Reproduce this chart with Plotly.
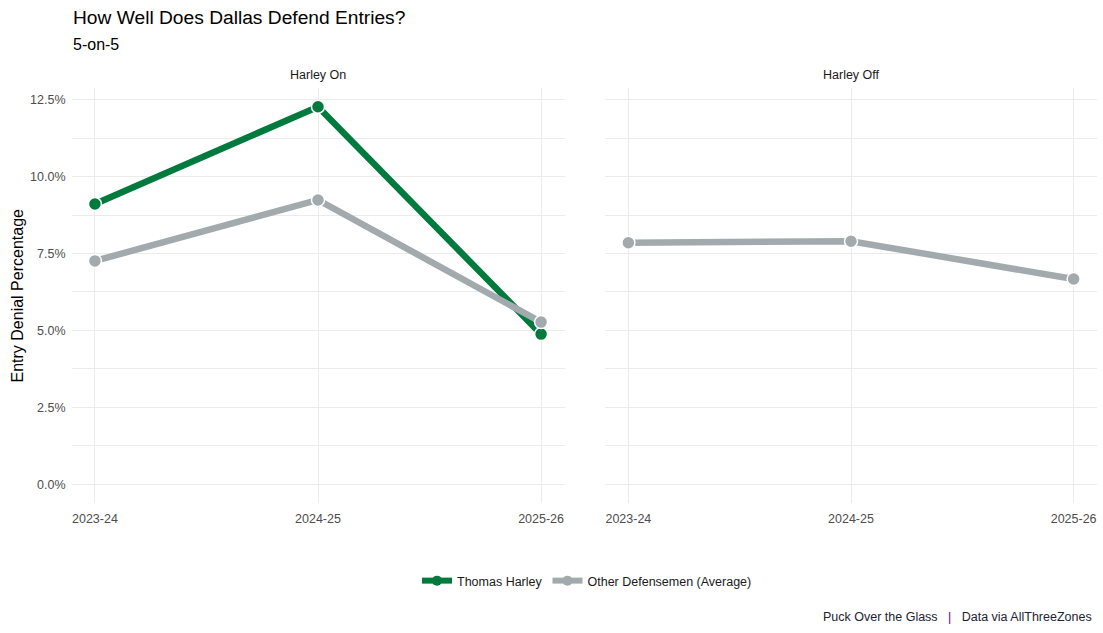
import plotly.graph_objects as go

seasons = ["2023-24", "2024-25", "2025-26"]
harley_on_thomas = [0.0911, 0.1227, 0.0488]
harley_on_others = [0.0726, 0.0924, 0.0527]
harley_off_others = [0.0785, 0.0790, 0.0667]
panel_titles = ["Harley On", "Harley Off"]
y_ticks = [0.0, 0.025, 0.05, 0.075, 0.10, 0.125]

GREEN = "#007A3D"
GRAY = "#A2AAAD"
W, H = 1103, 633
FONT = "Liberation Sans, Arial, sans-serif"

xpos = list(range(len(seasons)))
fig = go.Figure()

# lines first (ggplot draws all lines then points)
fig.add_trace(go.Scatter(x=xpos, y=harley_on_thomas, mode="lines", line=dict(color=GREEN, width=6.5),
                         xaxis="x", yaxis="y", showlegend=False, hoverinfo="skip"))
fig.add_trace(go.Scatter(x=xpos, y=harley_on_others, mode="lines", line=dict(color=GRAY, width=6.5),
                         xaxis="x", yaxis="y", showlegend=False, hoverinfo="skip"))
fig.add_trace(go.Scatter(x=xpos, y=harley_off_others, mode="lines", line=dict(color=GRAY, width=6.5),
                         xaxis="x2", yaxis="y2", showlegend=False, hoverinfo="skip"))
mk = dict(size=13, line=dict(color="white", width=1.5))
fig.add_trace(go.Scatter(x=xpos, y=harley_on_thomas, mode="markers", marker=dict(color=GREEN, **mk),
                         xaxis="x", yaxis="y", showlegend=False))
fig.add_trace(go.Scatter(x=xpos, y=harley_on_others, mode="markers", marker=dict(color=GRAY, **mk),
                         xaxis="x", yaxis="y", showlegend=False))
fig.add_trace(go.Scatter(x=xpos, y=harley_off_others, mode="markers", marker=dict(color=GRAY, **mk),
                         xaxis="x2", yaxis="y2", showlegend=False))
# legend entries
fig.add_trace(go.Scatter(x=[None], y=[None], mode="lines+markers", name="Thomas Harley",
                         line=dict(color=GREEN, width=6), marker=dict(color=GREEN, size=10),
                         xaxis="x", yaxis="y"))
fig.add_trace(go.Scatter(x=[None], y=[None], mode="lines+markers", name="Other Defensemen (Average)",
                         line=dict(color=GRAY, width=6), marker=dict(color=GRAY, size=10),
                         xaxis="x", yaxis="y"))

grid = "#EBEBEB"
xcommon = dict(range=[-0.105, len(seasons) - 1 + 0.105], tickvals=xpos, ticktext=seasons,
               showgrid=True, gridcolor=grid, gridwidth=1, zeroline=False, showline=False,
               ticks="", tickfont=dict(size=12.5, color="#4D4D4D", family=FONT),
               ticklabelstandoff=6, fixedrange=True)
ycommon = dict(range=[-0.0061, 0.1288], tickvals=y_ticks, tickformat=".1%",
               showgrid=True, gridcolor=grid, gridwidth=1, zeroline=False, showline=False,
               ticks="", minor=dict(dtick=0.0125, tick0=0, showgrid=True, gridcolor=grid, gridwidth=0.7),
               tickfont=dict(size=12.5, color="#4D4D4D", family=FONT), fixedrange=True)

yd = [1 - 503 / H, 1 - 88 / H]
fig.update_layout(
    width=W, height=H,
    margin=dict(l=0, r=0, t=0, b=0),
    paper_bgcolor="white", plot_bgcolor="white",
    font=dict(family=FONT, color="#1A1A1A"),
    xaxis=dict(domain=[71.5 / W, 564.5 / W], anchor="y", **xcommon),
    xaxis2=dict(domain=[605 / W, 1097 / W], anchor="y2", **xcommon),
    yaxis=dict(domain=yd, anchor="x", ticklabelstandoff=5, **ycommon),
    yaxis2=dict(domain=yd, anchor="x2", showticklabels=False, matches="y", **ycommon),
    showlegend=True,
    legend=dict(orientation="h", x=587 / W, xanchor="center", y=1 - 581 / H, yanchor="middle",
                font=dict(size=12.5, color="#1A1A1A", family=FONT), bgcolor="rgba(0,0,0,0)",
                itemwidth=30, traceorder="normal"),
    annotations=[
        dict(text="How Well Does Dallas Defend Entries?", xref="paper", yref="paper",
             x=71 / W, y=1 - 18 / H, xanchor="left", yanchor="middle", showarrow=False,
             font=dict(size=19.2, color="black", family=FONT)),
        dict(text="5-on-5", xref="paper", yref="paper",
             x=71 / W, y=1 - 44 / H, xanchor="left", yanchor="middle", showarrow=False,
             font=dict(size=16, color="black", family=FONT)),
        dict(text=panel_titles[0], xref="paper", yref="paper",
             x=(71.5 + 564.5) / 2 / W, y=1 - 75 / H, xanchor="center", yanchor="middle", showarrow=False,
             font=dict(size=12.5, color="#1A1A1A", family=FONT)),
        dict(text=panel_titles[1], xref="paper", yref="paper",
             x=(605 + 1097) / 2 / W, y=1 - 75 / H, xanchor="center", yanchor="middle", showarrow=False,
             font=dict(size=12.5, color="#1A1A1A", family=FONT)),
        dict(text="Entry Denial Percentage", xref="paper", yref="paper",
             x=17 / W, y=1 - 295.5 / H, xanchor="center", yanchor="middle", textangle=-90, showarrow=False,
             font=dict(size=16, color="black", family=FONT)),
        dict(text="Puck Over the Glass&nbsp;&nbsp;&nbsp;<span style='color:#800080'>|</span>&nbsp;&nbsp;&nbsp;Data via AllThreeZones",
             xref="paper", yref="paper", x=1094 / W, y=1 - 617 / H, xanchor="right", yanchor="middle",
             showarrow=False, font=dict(size=12.5, color="#222233", family=FONT)),
    ],
)

fig.write_html("out.html",
               config={"displayModeBar": False},
               post_script="document.body.style.margin='0';document.body.style.padding='0';"
                           "document.body.style.overflow='hidden';"
                           "document.documentElement.style.overflow='hidden';")
